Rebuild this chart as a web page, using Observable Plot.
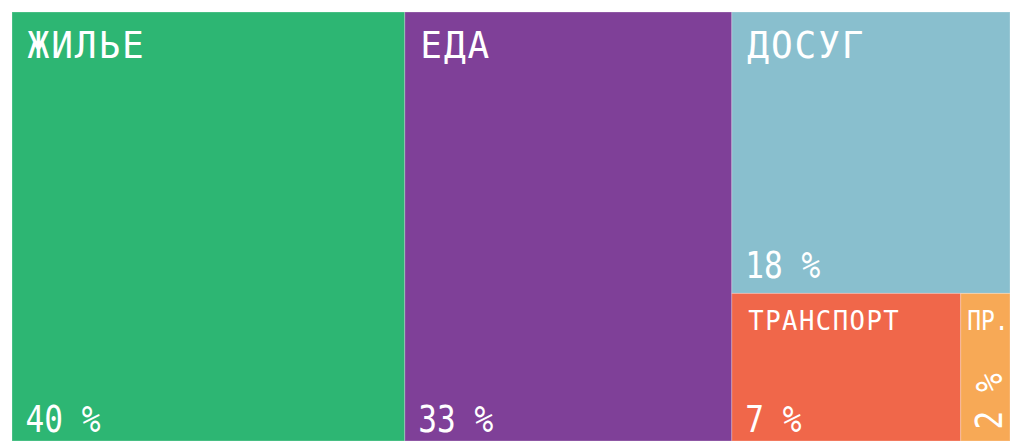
<!DOCTYPE html>
<html>
<head>
<meta charset="utf-8">
<script src="https://cdn.jsdelivr.net/npm/d3@7"></script>
<script src="https://cdn.jsdelivr.net/npm/@observablehq/plot@0.6"></script>
<style>
  html, body { margin: 0; padding: 0; background: #ffffff; }
  #chart svg { display: block; }
</style>
</head>
<body>
<div id="chart"></div>
<script>
// Categories (top-level data)
const categories = ["ЖИЛЬЕ", "ЕДА", "ДОСУГ", "ТРАНСПОРТ", "ПР."];
// Area shares (percent of the whole)
const shares = [39.4, 32.8, 18.3, 7.9, 1.7];
// Printed percentage labels
const percents = [40, 33, 18, 7, 2];
const colors = ["#2db673", "#7f4098", "#89bfce", "#f0674a", "#f7a956"];

const W = 998, H = 429;
const root = d3.hierarchy({children: categories.map((name, i) => ({name, value: shares[i], pct: percents[i], color: colors[i]}))})
  .sum(d => d.value || 0);
d3.treemap().tile(d3.treemapBinary).size([W, H]).round(false)(root);
const leaves = root.leaves().map(l => ({...l.data, x0: l.x0, x1: l.x1, y0: l.y0, y1: l.y1}));
const big = leaves.filter(d => d.value > 10);
const mid = leaves.filter(d => d.value > 5 && d.value <= 10);
const tiny = leaves.filter(d => d.value <= 5);
const atBottom = leaves.filter(d => d.value > 5 && d.y1 > H - 1);
const floating = leaves.filter(d => d.value > 5 && d.y1 <= H - 1);

const FONT = "'DejaVu Sans Mono', monospace";

const chart = Plot.plot({
  width: 1010,
  height: 441,
  marginLeft: 12,
  marginTop: 12,
  marginRight: 0,
  marginBottom: 0,
  x: {domain: [0, W], axis: null},
  y: {domain: [0, H], reverse: true, axis: null},
  style: {fontFamily: FONT, background: "#ffffff"},
  marks: [
    Plot.rect(leaves, {x1: "x0", x2: "x1", y1: "y0", y2: "y1", fill: "color", stroke: "#ffffff", strokeOpacity: 0.25, strokeWidth: 1}),
    // big titles
    Plot.text(big, {x: "x0", y: "y0", text: "name", textAnchor: "start", lineAnchor: "bottom", dx: 15, dy: 45, fill: "white", fontSize: 38, fontFamily: FONT, fontWeight: 500, className: "title"}),
    // smaller titles
    Plot.text(mid, {x: "x0", y: "y0", text: "name", textAnchor: "start", lineAnchor: "bottom", dx: 16, dy: 36, fill: "white", fontSize: 27, fontFamily: FONT, fontWeight: 500, className: "subtitle"}),
    Plot.text(tiny, {x: "x0", y: "y0", text: "name", textAnchor: "start", lineAnchor: "bottom", dx: 6, dy: 36, fill: "white", fontSize: 26, fontFamily: FONT, fontWeight: 500, className: "tight"}),
    // percent labels
    Plot.text(atBottom, {x: "x0", y: "y1", text: d => d.pct + " %", textAnchor: "start", lineAnchor: "bottom", dx: 13, dy: -10, fill: "white", fontSize: 38, fontFamily: FONT, className: "pct"}),
    Plot.text(floating, {x: "x0", y: "y1", text: d => d.pct + " %", textAnchor: "start", lineAnchor: "bottom", dx: 13, dy: -16, fill: "white", fontSize: 38, fontFamily: FONT, className: "pct"}),
    // rotated percent for tiny box
    Plot.text(tiny, {x: "x0", y: "y1", text: d => d.pct + " %", textAnchor: "start", lineAnchor: "bottom", rotate: -90, dx: 41, dy: -12, fill: "white", fontSize: 38, fontFamily: FONT, className: "pct"})
  ]
});

function squeeze(sel, sx, spacing) {
  d3.select(chart).selectAll(sel).each(function () {
    const t = d3.select(this);
    let tr = t.attr("transform");
    if (!tr) {
      const x = +t.attr("x") || 0, y = +t.attr("y") || 0;
      t.attr("x", null).attr("y", null);
      tr = `translate(${x},${y})`;
    }
    t.attr("transform", tr + ` scale(${sx},1)`);
    t.style("letter-spacing", spacing + "px");
  });
}
squeeze(".title text", 0.95, 2);
squeeze(".subtitle text", 0.95, 1.5);
squeeze(".tight text", 0.88, 0);
squeeze(".pct text", 0.82, 0);
document.getElementById("chart").appendChild(chart);
</script>
</body>
</html>
